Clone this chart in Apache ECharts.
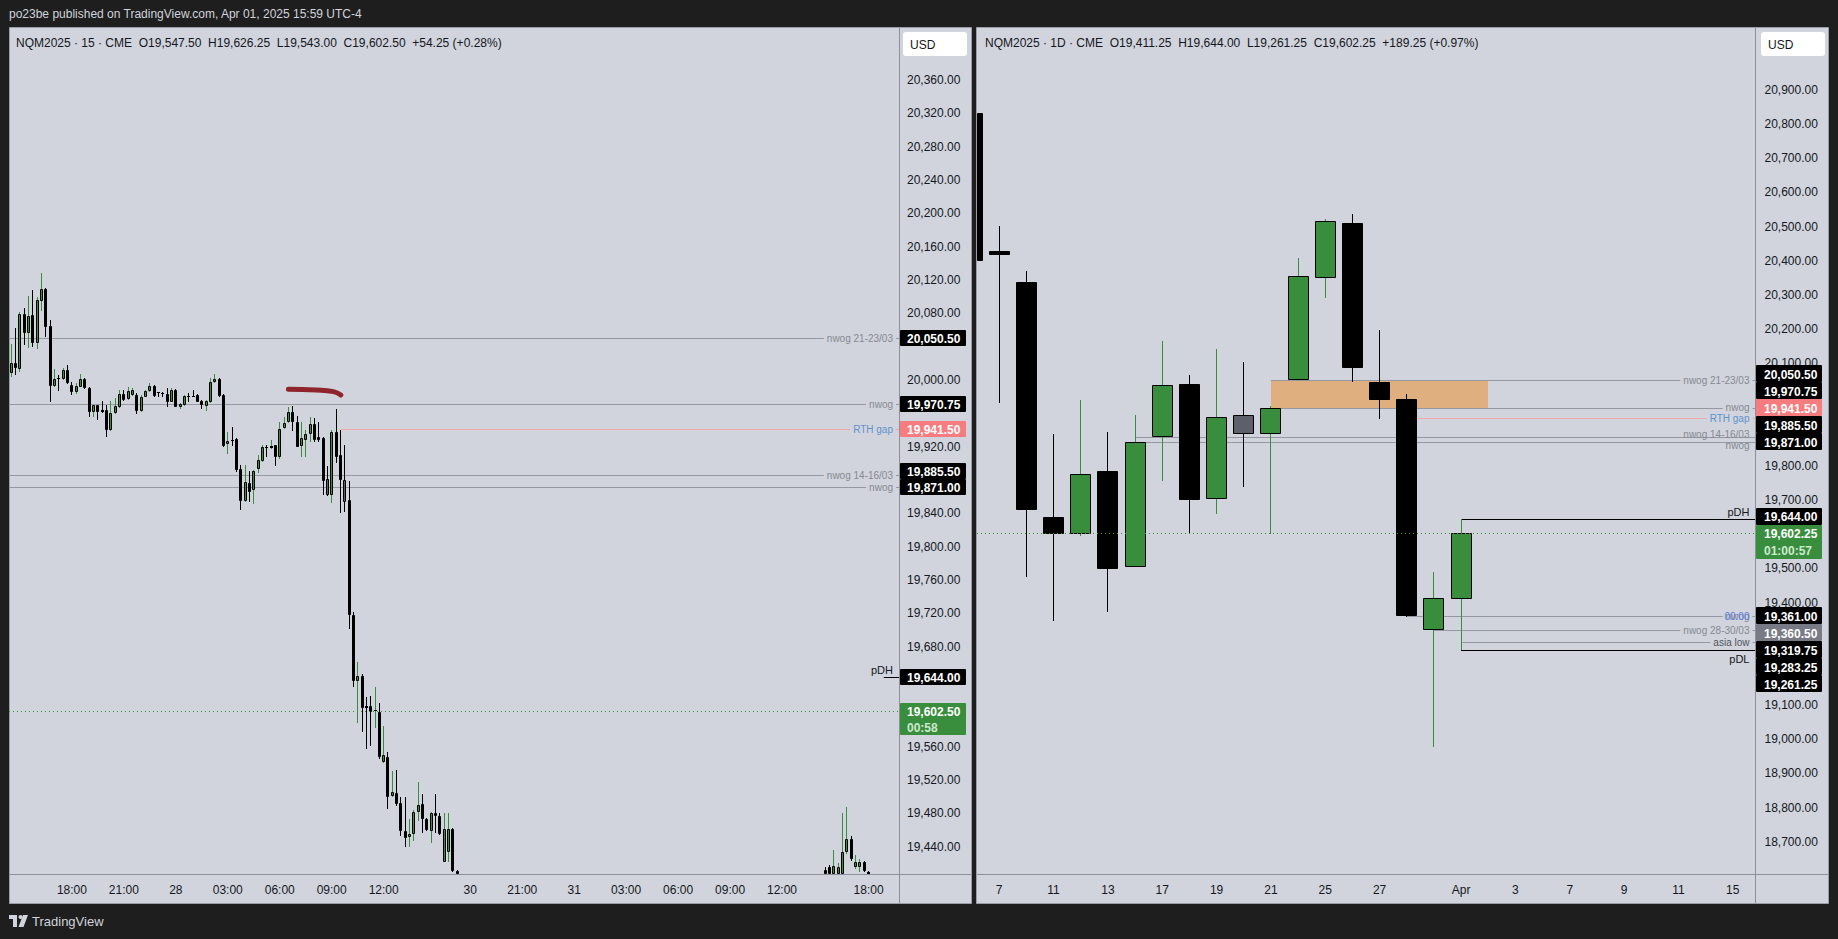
<!DOCTYPE html>
<html>
<head>
<meta charset="utf-8">
<script src="https://cdn.jsdelivr.net/npm/echarts@6/dist/echarts.min.js"></script>
<style>
html,body{margin:0;padding:0;background:#1e1e1e;overflow:hidden}
#c{width:1838px;height:939px}
</style>
</head>
<body>
<div id="c"></div>
<script>
// ---------------- DATA ----------------
// Left: NQM2025 · 15 min. x = bar index, bar 0 = 27 Mar 18:00 (UTC-4); one step = one 15-minute bar
const intradayBars = [ // [bar, open, close, low, high]
  [-14,20008,20020,20004,20043],[-13,20020,20014,20006,20063],[-12,20013,20079,20010,20082],
  [-11,20079,20057,20042,20087],[-10,20056,20077,20038,20101],[-9,20078,20044,20040,20108],
  [-8,20044,20096,20037,20100],[-7,20095,20109,20083,20129],[-6,20109,20064,20052,20110],
  [-5,20065,19993,19974,20072],[-4,19993,20001,19992,20013],[-3,20003,20002,19987,20006],
  [-2,20001,20012,20000,20015],[-1,20012,19996,19995,20018],[0,19994,19986,19982,19997],
  [1,19986,19993,19983,19996],[2,19992,20001,19991,20007],[3,20001,19990,19989,20003],
  [4,19990,19961,19955,19992],[5,19961,19970,19956,19970],[6,19970,19962,19952,19970],
  [7,19964,19961,19960,19975],[8,19964,19940,19931,19970],[9,19940,19960,19939,19975],
  [10,19960,19969,19959,19978],[11,19968,19983,19966,19988],[12,19983,19976,19975,19988],
  [13,19977,19987,19976,19991],[14,19982,19988,19981,19990],[15,19982,19963,19959,19984],
  [16,19963,19980,19962,19982],[17,19980,19987,19979,19988],[18,19987,19993,19986,19996],
  [19,19993,19981,19980,19994],[20,19985,19984,19979,19985],[21,19984,19984,19979,19986],
  [22,19983,19973,19968,19990],[23,19974,19988,19973,19990],[24,19988,19968,19968,19989],
  [25,19967,19971,19965,19972],[26,19970,19981,19969,19982],[27,19981,19981,19974,19984],
  [28,19981,19981,19979,19988],[29,19982,19974,19973,19983],[30,19975,19970,19965,19976],
  [31,19969,19975,19963,19976],[32,19973,19998,19972,20002],[33,19997,20001,19996,20007],
  [34,20001,19981,19980,20002],[35,19982,19921,19920,19983],[36,19923,19927,19911,19938],
  [37,19928,19928,19921,19944],[38,19929,19892,19890,19930],[39,19893,19855,19844,19898],
  [40,19855,19877,19854,19898],[41,19876,19866,19853,19891],[42,19868,19891,19851,19892],
  [43,19893,19904,19888,19910],[44,19903,19920,19902,19922],[45,19919,19919,19908,19922],
  [46,19918,19921,19917,19928],[47,19922,19908,19897,19922],[48,19908,19941,19905,19950],
  [49,19942,19948,19941,19956],[50,19949,19961,19948,19968],[51,19962,19949,19939,19969],
  [52,19949,19920,19919,19957],[53,19921,19930,19908,19950],[54,19928,19935,19908,19940],
  [55,19935,19947,19925,19956],[56,19947,19928,19926,19954],[57,19931,19928,19925,19949],
  [58,19930,19879,19862,19931],[59,19881,19862,19861,19897],[60,19862,19937,19852,19940],
  [61,19937,19908,19900,19965],[62,19910,19880,19840,19940],[63,19880,19854,19842,19922],
  [64,19856,19718,19701,19879],[65,19718,19639,19632,19722],[66,19639,19645,19588,19661],
  [67,19645,19606,19577,19647],[68,19609,19606,19557,19620],[69,19609,19602,19561,19621],
  [70,19603,19604,19582,19632],[71,19602,19547,19545,19612],[72,19541,19550,19540,19585],
  [73,19548,19500,19485,19553],[74,19501,19505,19500,19531],[75,19504,19491,19489,19532],
  [76,19492,19459,19453,19499],[77,19459,19450,19439,19499],[78,19451,19455,19440,19473],
  [79,19455,19481,19447,19484],[80,19481,19490,19471,19517],[81,19491,19473,19456,19503],
  [82,19473,19460,19459,19474],[83,19459,19480,19444,19481],[84,19480,19477,19456,19503],
  [85,19477,19455,19454,19480],[86,19422,19461,19422,19480],[87,19433,19461,19422,19480],
  [88,19461,19411,19410,19462],[89,19411,19400,19390,19412],
  [174,19412,19405,19400,19416],[175,19416,19400,19395,19418],[176,19400,19417,19395,19436],
  [177,19402,19416,19398,19420],[178,19400,19434,19395,19480],[179,19433,19449,19431,19488],
  [180,19449,19425,19423,19453],[181,19415,19421,19413,19430],[182,19415,19422,19410,19425],
  [183,19422,19411,19409,19423],[184,19410,19405,19395,19411]
];
const intradayGrayBars = [59, 63];
const intradayTimeLabels = [[0,'18:00'],[12,'21:00'],[24,'28'],[36,'03:00'],[48,'06:00'],[60,'09:00'],[72,'12:00'],
  [92,'30'],[104,'21:00'],[116,'31'],[128,'03:00'],[140,'06:00'],[152,'09:00'],[164,'12:00'],[184,'18:00']];
const intradayPriceTicks = [19440,19480,19520,19560,19600,19640,19680,19720,19760,19800,19840,19880,19920,19960,
  20000,20040,20080,20120,20160,20200,20240,20280,20320,20360];
const intradayLevels = [ // [start bar, price, label, kind]
  [-20, 20050.50, 'nwog 21-23/03', 'nwog'],
  [-20, 19970.75, 'nwog', 'nwog'],
  [62, 19941.50, 'RTH gap', 'rth'],
  [-20, 19885.50, 'nwog 14-16/03', 'nwog'],
  [-20, 19871.00, 'nwog', 'nwog'],
  [187.5, 19644.00, 'pDH', 'pdh']
];
const intradayLast = 19602.50;
const intradayTags = [[20050.50,'black'],[19970.75,'black'],[19941.50,'pink'],[19885.50,'black'],[19871.00,'black'],
  [19644.00,'black'],[19602.50,'last','00:58']];
const brushStroke = [[50,19988.8],[56.5,19988],[60.4,19986],[62.1,19982]];
const intradayLegend = 'NQM2025 · 15 · CME\u00a0\u00a0O19,547.50\u00a0\u00a0H19,626.25\u00a0\u00a0L19,543.00\u00a0\u00a0C19,602.50\u00a0\u00a0+54.25 (+0.28%)';

// Right: NQM2025 · 1D. x = trading-day index, 0 = 6 Mar 2025
const dailyBars = [ // [day, open, close, low, high]
  [0,20833,20400,20370,20870],[1,20428,20417,19984,20502],[2,20338,19672,19475,20370],
  [3,19650,19602,19347,19894],[4,19602,19775,19594,19993],[5,19784,19497,19373,19899],
  [6,19503,19871,19503,19949],[7,19885.5,20036,19757,20165],[8,20040,19701,19604,20066],
  [9,19702,19943,19660,20142],[10,19948,19892,19737,20104],[11,19894,19970.75,19601,19975],
  [12,20050.5,20355,20050.5,20408],[13,20351,20516,20291,20522],[14,20511,20087,20046,20537],
  [15,20046,19994,19937,20198],[16,19996,19361,19358,20010],[17,19319.75,19412,18978,19489],
  [18,19411.25,19602.25,19261.25,19644.00]
];
const dailyGrayBars = [10];
const dailyDateLabels = [[1,'7'],[3,'11'],[5,'13'],[7,'17'],[9,'19'],[11,'21'],[13,'25'],[15,'27'],
  [18,'Apr'],[20,'3'],[22,'7'],[24,'9'],[26,'11'],[28,'15']];
const dailyPriceTicks = [18700,18800,18900,19000,19100,19200,19300,19400,19500,19600,19700,19800,19900,
  20000,20100,20200,20300,20400,20500,20600,20700,20800,20900];
const dailyZones = [[11, 19, 20050.50, 19970.75]]; // [from day, to day, top, bottom]
const dailyLevels = [
  [11, 20050.50, 'nwog 21-23/03', 'nwog'],
  [11, 19970.75, 'nwog', 'nwog'],
  [16, 19941.50, 'RTH gap', 'rth'],
  [6, 19885.50, 'nwog 14-16/03', 'nwog'],
  [6, 19871.00, 'nwog', 'nwog'],
  [18, 19644.00, 'pDH', 'pdh'],
  [16, 19361.00, 'nwog', 'nwog'],
  [16, 19360.50, '00:00', 'midnight'],
  [17, 19319.75, 'nwog 28-30/03', 'nwog'],
  [18, 19283.25, 'asia low', 'asia'],
  [18, 19261.25, 'pDL', 'pdl']
];
const dailyLast = 19602.25;
const dailyTags = [[20050.50,'black'],[19970.75,'black'],[19941.50,'pink'],[19885.50,'black'],[19871.00,'black'],
  [19644.00,'black'],[19602.25,'last','01:00:57'],[19361.00,'black'],[19360.50,'gray'],[19319.75,'black'],
  [19283.25,'black'],[19261.25,'black']];
const dailyLegend = 'NQM2025 · 1D · CME\u00a0\u00a0O19,411.25\u00a0\u00a0H19,644.00\u00a0\u00a0L19,261.25\u00a0\u00a0C19,602.25\u00a0\u00a0+189.25 (+0.97%)';

const titleText = 'po23be published on TradingView.com, Apr 01, 2025 15:59 UTC-4';

// ---------------- STYLE / LAYOUT ----------------
const FONT = '"Liberation Sans", Arial, Roboto, sans-serif';
const PAGE_BG = '#1e1e1e', PANEL_BG = '#d1d4dc', TXT = '#131722', UP = '#388e3c', GRAYBODY = '#5d606b', SEP = '#8d9098';
const LEVEL_FONT = '10px ' + FONT, PD_FONT = '11px ' + FONT, LABEL_GAP = 11;
const LEVEL_STYLE = {
  nwog: {line:'#9598a1', text:'#868993'},
  rth: {line:'#f2a9ae', text:'#5e93cc'},
  pdh: {line:'#000000', text:'#131722'},
  pdl: {line:'#000000', text:'#131722'},
  asia: {line:'#9598a1', text:'#50535e'},
  midnight: {line:'#9598a1', text:'#5b7fe0'}
};
const TAG_STYLE = {black:{bg:'#000000', fg:'#ffffff'}, pink:{bg:'#f77c80', fg:'#ffffff'},
  gray:{bg:'#787b86', fg:'#ffffff'}, last:{bg:'#388e3c', fg:'#ffffff', fg2:'#cfe8d0'}};

const L = {left:9, right:899, top:28, bottom:874};
const R = {left:977, right:1755.5, top:28, bottom:874};
// calibration of the two scales (pixel anchors)
const LX = {min:(L.left-71.9)/4.33, max:(L.right-71.9)/4.33};
const LY = {min:20000-(L.bottom-380)/0.8333, max:20000+(380-L.top)/0.8333};
const RX = {min:1+(R.left-999.2)/27.17, max:1+(R.right-999.2)/27.17};
const RY = {min:20900-(R.bottom-89.95)/0.34175, max:20900+(89.95-R.top)/0.34175};

const fmtPrice = v => v.toLocaleString('en-US', {minimumFractionDigits:2, maximumFractionDigits:2});
const measureCtx = document.createElement('canvas').getContext('2d');
function textWidth(text, font) { measureCtx.font = font; return measureCtx.measureText(text).width; }

// ---------------- RENDERERS ----------------
function candleRenderer(grays, ratio) {
  return function (params, api) {
    const cs = params.coordSys;
    const i = api.value(0), o = api.value(1), c = api.value(2), lo = api.value(3), hi = api.value(4);
    const band = api.size([1, 0])[0];
    let bw = Math.max(1, Math.round(band * ratio)); if (bw % 2 === 0) bw += 1;
    const xPix = api.coord([i, o])[0];
    const x0 = Math.round(xPix - bw / 2);
    const xc = x0 + (bw - 1) / 2 + 0.5;
    const top = cs.y, bot = cs.y + cs.height, left = cs.x, right = cs.x + cs.width;
    const yo = api.coord([i, o])[1], yc = api.coord([i, c])[1], yl = api.coord([i, lo])[1], yh = api.coord([i, hi])[1];
    const gray = grays.indexOf(i) >= 0;
    const up = c > o;
    const fill = gray ? GRAYBODY : (up ? UP : '#000000');
    const wick = (up && !gray) ? UP : '#000000';
    const children = [];
    if (xc >= left && xc <= right) {
      const y1 = Math.max(top, Math.round(Math.min(yh, yl))), y2 = Math.min(bot, Math.round(Math.max(yh, yl)));
      if (y2 > y1) children.push({type:'line', shape:{x1:xc, y1:y1, x2:xc, y2:y2}, style:{stroke:wick, lineWidth:1}});
    }
    let by1 = Math.round(Math.min(yo, yc)), by2 = Math.round(Math.max(yo, yc));
    if (by2 - by1 < 1) by2 = by1 + 1;
    const cx1 = Math.max(x0, left), cx2 = Math.min(x0 + bw, right);
    const cy1 = Math.max(by1, top), cy2 = Math.min(by2, bot);
    if (cx2 > cx1 && cy2 > cy1) {
      if (cx2 - cx1 >= 3 && cy2 - cy1 >= 3) {
        children.push({type:'rect', shape:{x:cx1 + 0.5, y:cy1 + 0.5, width:cx2 - cx1 - 1, height:cy2 - cy1 - 1},
          style:{fill:fill, stroke:'#000000', lineWidth:1}});
      } else {
        children.push({type:'rect', shape:{x:cx1, y:cy1, width:cx2 - cx1, height:cy2 - cy1}, style:{fill:'#000000'}});
      }
    }
    return {type:'group', children:children};
  };
}
const isLabelled = k => k === 'nwog' || k === 'rth' || k === 'asia';
// spread right-aligned level labels that sit too close to each other
function labelPositions(levels, api) {
  const items = [];
  levels.forEach((lv, j) => { if (isLabelled(lv[3])) { const y = api.coord([lv[0], lv[1]])[1]; items.push({j:j, y:y, ty:y}); } });
  items.sort((a, b) => a.y - b.y);
  for (let it = 0; it < 30; it++) {
    let moved = false;
    for (let k = 1; k < items.length; k++) {
      const d = items[k].ty - items[k - 1].ty;
      if (d < LABEL_GAP) { const s = (LABEL_GAP - d) / 2; items[k - 1].ty -= s; items[k].ty += s; moved = true; }
    }
    if (!moved) break;
  }
  const out = {};
  items.forEach(it => { out[it.j] = it.ty; });
  return out;
}
function levelRenderer(levels) {
  return function (params, api) {
    const lv = levels[params.dataIndex];
    const cs = params.coordSys;
    const right = cs.x + cs.width;
    const p = api.coord([lv[0], lv[1]]);
    const x1 = Math.max(cs.x, p[0]);
    const y = Math.round(p[1]) + 0.5;
    if (y < cs.y || y > cs.y + cs.height) return null;
    const kind = lv[3], st = LEVEL_STYLE[kind];
    const font = (kind === 'pdh' || kind === 'pdl') ? PD_FONT : LEVEL_FONT;
    const tx = right - 6;
    let ty = y, va = 'middle';
    if (kind === 'pdh') { ty = y - 2; va = 'bottom'; }
    else if (kind === 'pdl') { ty = y + 3; va = 'top'; }
    else if (isLabelled(kind)) { ty = labelPositions(levels, api)[params.dataIndex] + 0.5; }
    const breakLine = va === 'middle' && Math.abs(ty - y) <= 2;
    const children = [];
    const tw = textWidth(lv[2], font);
    if (breakLine) {
      const gapL = tx - tw - 3, gapR = tx + 3;
      if (gapL > x1) children.push({type:'line', shape:{x1:x1, y1:y, x2:gapL, y2:y}, style:{stroke:st.line, lineWidth:1}});
      children.push({type:'line', shape:{x1:Math.max(x1, gapR), y1:y, x2:right, y2:y}, style:{stroke:st.line, lineWidth:1}});
    } else {
      children.push({type:'line', shape:{x1:x1, y1:y, x2:right, y2:y}, style:{stroke:st.line, lineWidth:1}});
    }
    children.push({type:'text', x:tx, y:ty, style:{text:lv[2], fill:st.text, font:font,
      align:'right', verticalAlign:va, textAlign:'right', textVerticalAlign:va}});
    return {type:'group', children:children};
  };
}
function lastLineRenderer(params, api) {
  const cs = params.coordSys;
  const y = Math.round(api.coord([api.value(0), api.value(1)])[1]) + 0.5;
  return {type:'line', shape:{x1:cs.x, y1:y, x2:cs.x + cs.width, y2:y},
    style:{stroke:UP, lineWidth:1, lineDash:[1, 3]}};
}
function zoneRenderer(params, api) {
  const a = api.coord([api.value(0), api.value(2)]), b = api.coord([api.value(1), api.value(3)]);
  return {type:'rect', shape:{x:Math.round(a[0]), y:Math.round(a[1]), width:Math.round(b[0]) - Math.round(a[0]),
    height:Math.round(b[1]) - Math.round(a[1])}, style:{fill:'#dfaf80'}};
}

function labelLookup(list) {
  return v => { const m = list.find(d => Math.abs(d[0] - v) < 1e-6); return m ? m[1] : ''; };
}
function priceLookup(list, hidden) {
  return v => (list.some(t => Math.abs(t - v) < 1e-6) && !(hidden && hidden.some(h => Math.abs(h - v) < 1e-6))) ? fmtPrice(v) : '';
}
const axisLabelBase = {color:TXT, fontSize:12, fontFamily:FONT};

const option = {
  animation:false,
  backgroundColor:PAGE_BG,
  grid:[
    {left:L.left, top:L.top, width:L.right - L.left, height:L.bottom - L.top},
    {left:R.left, top:R.top, width:R.right - R.left, height:R.bottom - R.top}
  ],
  xAxis:[
    {type:'value', gridIndex:0, min:LX.min, max:LX.max, minInterval:4, maxInterval:4,
      axisLine:{show:false}, axisTick:{show:false}, splitLine:{show:false},
      axisLabel:Object.assign({customValues:intradayTimeLabels.map(d => d[0]), formatter:labelLookup(intradayTimeLabels), margin:10}, axisLabelBase)},
    {type:'value', gridIndex:1, min:RX.min, max:RX.max, minInterval:1, maxInterval:1,
      axisLine:{show:false}, axisTick:{show:false}, splitLine:{show:false},
      axisLabel:Object.assign({customValues:dailyDateLabels.map(d => d[0]), formatter:labelLookup(dailyDateLabels), margin:10}, axisLabelBase)}
  ],
  yAxis:[
    {type:'value', gridIndex:0, position:'right', min:LY.min, max:LY.max, minInterval:40, maxInterval:40,
      axisLine:{show:false}, axisTick:{show:false}, splitLine:{show:false},
      axisLabel:Object.assign({customValues:intradayPriceTicks, formatter:priceLookup(intradayPriceTicks), margin:8}, axisLabelBase)},
    {type:'value', gridIndex:1, position:'right', min:RY.min, max:RY.max, minInterval:100, maxInterval:100,
      axisLine:{show:false}, axisTick:{show:false}, splitLine:{show:false},
      axisLabel:Object.assign({customValues:dailyPriceTicks, formatter:priceLookup(dailyPriceTicks), margin:9}, axisLabelBase)}
  ],
  series:[
    {type:'custom', name:'zone', xAxisIndex:1, yAxisIndex:1, z:1, silent:true, renderItem:zoneRenderer,
      data:dailyZones, encode:{x:[0, 1], y:[2, 3]}},
    {type:'custom', name:'levels15', xAxisIndex:0, yAxisIndex:0, z:2, silent:true, renderItem:levelRenderer(intradayLevels),
      data:intradayLevels.map(l => [l[0], l[1]]), encode:{x:0, y:1}},
    {type:'custom', name:'levels1D', xAxisIndex:1, yAxisIndex:1, z:2, silent:true, renderItem:levelRenderer(dailyLevels),
      data:dailyLevels.map(l => [l[0], l[1]]), encode:{x:0, y:1}},
    {type:'custom', name:'NQM2025 15', xAxisIndex:0, yAxisIndex:0, z:4, silent:true,
      renderItem:candleRenderer(intradayGrayBars, 0.7), data:intradayBars, encode:{x:0, y:[1, 2, 3, 4]}},
    {type:'custom', name:'NQM2025 1D', xAxisIndex:1, yAxisIndex:1, z:4, silent:true,
      renderItem:candleRenderer(dailyGrayBars, 0.773), data:dailyBars, encode:{x:0, y:[1, 2, 3, 4]}},
    {type:'custom', name:'last15', xAxisIndex:0, yAxisIndex:0, z:5, silent:true, renderItem:lastLineRenderer,
      data:[[0, intradayLast]], encode:{x:0, y:1}},
    {type:'custom', name:'last1D', xAxisIndex:1, yAxisIndex:1, z:5, silent:true, renderItem:lastLineRenderer,
      data:[[1, dailyLast]], encode:{x:0, y:1}},
    {type:'line', name:'brush', xAxisIndex:0, yAxisIndex:0, z:6, silent:true, smooth:true, showSymbol:false,
      data:brushStroke, lineStyle:{width:5, color:'#8b1a22', cap:'round', join:'round', opacity:0.95}}
  ]
};

const chart = echarts.init(document.getElementById('c'), null, {renderer:'svg', width:1838, height:939});
chart.setOption(option);

// ---------------- PRICE TAGS (stacked away from the last-price tag) ----------------
function placeTags(tags, yAxisIndex, H) {
  const yOf = p => chart.convertToPixel({yAxisIndex:yAxisIndex}, p);
  const lastTag = tags.find(t => t[1] === 'last');
  const lastY = yOf(lastTag[0]);
  const placed = [{t:lastTag, y:lastY, top:lastY - H / 2, bottom:lastY - H / 2 + 2 * H}];
  const above = tags.filter(t => t[0] > lastTag[0]).sort((a, b) => a[0] - b[0]);
  let edge = lastY - H / 2;
  above.forEach(t => { const y = Math.min(yOf(t[0]), edge - H / 2); placed.push({t:t, y:y, top:y - H / 2, bottom:y + H / 2}); edge = y - H / 2; });
  const below = tags.filter(t => t[0] < lastTag[0]).sort((a, b) => b[0] - a[0]);
  edge = lastY - H / 2 + 2 * H;
  below.forEach(t => { const y = Math.max(yOf(t[0]), edge + H / 2); placed.push({t:t, y:y, top:y - H / 2, bottom:y + H / 2}); edge = y + H / 2; });
  return placed;
}
function tagGraphics(placed, box, H) {
  const els = [];
  placed.forEach(pl => {
    const t = pl.t, st = TAG_STYLE[t[1]];
    els.push({type:'rect', z:100, silent:true, shape:{x:box.x, y:Math.round(pl.top), width:box.w, height:Math.round(pl.bottom - pl.top), r:1},
      style:{fill:st.bg}});
    els.push({type:'text', z:101, silent:true, x:box.tx, y:Math.round(pl.y) + 0.5,
      style:{text:fmtPrice(t[0]), fill:st.fg, font:'bold 12px ' + FONT, align:'left', verticalAlign:'middle',
        textAlign:'left', textVerticalAlign:'middle'}});
    if (t[2]) {
      els.push({type:'text', z:101, silent:true, x:box.tx, y:Math.round(pl.y + H) + 0.5,
        style:{text:t[2], fill:st.fg2, font:'bold 12px ' + FONT, align:'left', verticalAlign:'middle',
          textAlign:'left', textVerticalAlign:'middle'}});
    }
  });
  return els;
}
// tick labels whose text would clash with a tag's text line are left out (they sit under the tag)
function coveredTicks(ticks, placed, yAxisIndex, H) {
  return ticks.filter(v => {
    const y = chart.convertToPixel({yAxisIndex:yAxisIndex}, v);
    return placed.some(pl => {
      const lines = pl.t[2] ? [pl.y, pl.y + H] : [pl.y];
      return lines.some(ly => Math.abs(Math.round(ly) + 0.5 - y) < 9.5);
    });
  });
}

function txt(x, y, text, fill, font, extra) {
  return Object.assign({type:'text', silent:true, z:90, x:x, y:y,
    style:{text:text, fill:fill, font:font, align:'left', verticalAlign:'middle', textAlign:'left', textVerticalAlign:'middle'}}, extra || {});
}
const chrome = [
  {type:'rect', z:-100, silent:true, shape:{x:9.5, y:27.5, width:962, height:876}, style:{fill:PANEL_BG, stroke:'#9a9da6', lineWidth:1}},
  {type:'rect', z:-100, silent:true, shape:{x:976.5, y:27.5, width:852, height:876}, style:{fill:PANEL_BG, stroke:'#9a9da6', lineWidth:1}},
  {type:'line', z:50, silent:true, shape:{x1:899.5, y1:28, x2:899.5, y2:903}, style:{stroke:SEP, lineWidth:1}},
  {type:'line', z:50, silent:true, shape:{x1:10, y1:874.5, x2:971, y2:874.5}, style:{stroke:SEP, lineWidth:1}},
  {type:'line', z:50, silent:true, shape:{x1:1755.5, y1:28, x2:1755.5, y2:903}, style:{stroke:SEP, lineWidth:1}},
  {type:'line', z:50, silent:true, shape:{x1:977, y1:874.5, x2:1828, y2:874.5}, style:{stroke:SEP, lineWidth:1}},
  {type:'rect', z:95, silent:true, shape:{x:903, y:32, width:64, height:24, r:3}, style:{fill:'#ffffff'}},
  {type:'rect', z:95, silent:true, shape:{x:1761, y:32, width:64, height:24, r:3}, style:{fill:'#ffffff'}},
  txt(910, 44.5, 'USD', TXT, '12px ' + FONT, {z:96}),
  txt(1768, 44.5, 'USD', TXT, '12px ' + FONT, {z:96}),
  txt(9, 13.5, titleText, '#d1d4dc', '12px ' + FONT),
  txt(16, 42.5, intradayLegend, TXT, '12px ' + FONT),
  txt(985, 42.5, dailyLegend, TXT, '12px ' + FONT),
  {type:'rect', z:90, silent:true, shape:{x:9, y:915, width:8, height:4}, style:{fill:'#d1d4dc'}},
  {type:'rect', z:90, silent:true, shape:{x:13, y:915, width:4, height:12}, style:{fill:'#d1d4dc'}},
  {type:'circle', z:90, silent:true, shape:{cx:20.5, cy:917, r:2}, style:{fill:'#d1d4dc'}},
  {type:'polygon', z:90, silent:true, shape:{points:[[23,915],[28,915],[23.5,927],[18.5,927]]}, style:{fill:'#d1d4dc'}},
  txt(32, 921.5, 'TradingView', '#d1d4dc', '13px ' + FONT)
];

const placedL = placeTags(intradayTags, 0, 16);
const placedR = placeTags(dailyTags, 1, 17);
const hiddenL = coveredTicks(intradayPriceTicks, placedL, 0, 16);
const hiddenR = coveredTicks(dailyPriceTicks, placedR, 1, 17);
chart.setOption({
  yAxis:[{axisLabel:{formatter:priceLookup(intradayPriceTicks, hiddenL)}}, {axisLabel:{formatter:priceLookup(dailyPriceTicks, hiddenR)}}],
  graphic:chrome.concat(tagGraphics(placedL, {x:900, w:66, tx:907}, 16), tagGraphics(placedR, {x:1756, w:66, tx:1764}, 17))
});
</script>
</body>
</html>
